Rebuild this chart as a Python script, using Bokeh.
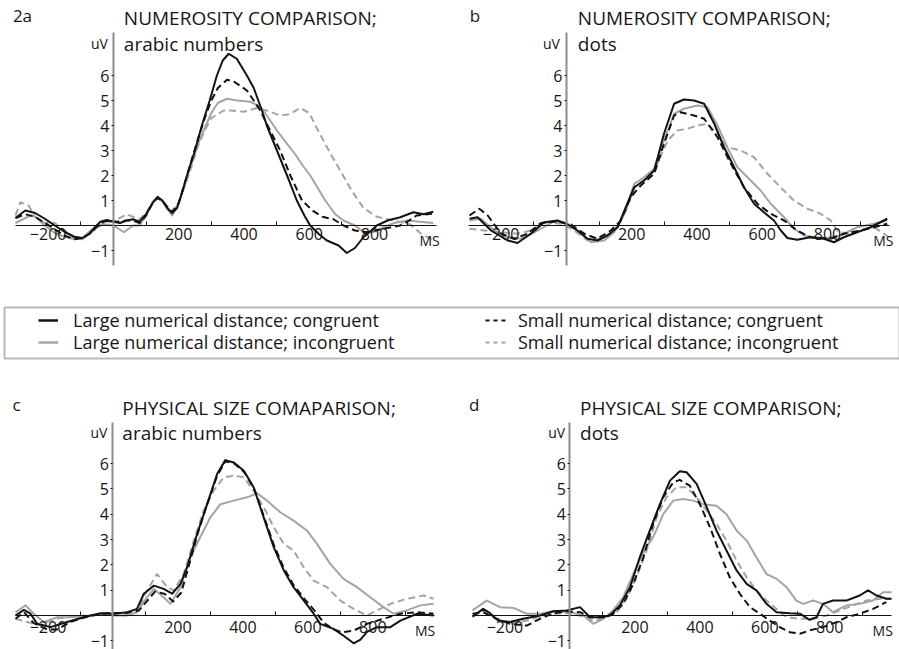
from bokeh.plotting import figure
from bokeh.models import Range1d, LinearAxis, FixedTicker, Label, Legend, LegendItem, BoxAnnotation
from bokeh.layouts import column, row
from bokeh.embed import file_html
from bokeh.resources import INLINE

# ---------------------------------------------------------------- data (ms, uV)
# Panel a: numerosity comparison, arabic numbers
A_LC_T = [-300,-270,-240,-210,-180,-150,-120,-95,-75,-55,-40,-20,0,20,40,60,80,100,120,135,150,165,180,195,210,230,250,271,295,317,335,353,378,409,430,455,470,501,532,562,585,603,630,654,690,715,740,766,790,807,840,879,919,950,980]
A_LC_V = [0.3,0.6,0.5,0.27,0.0,-0.25,-0.45,-0.5,-0.35,-0.05,0.15,0.22,0.15,0.1,0.2,0.25,0.15,0.45,0.9,1.15,1.0,0.7,0.5,0.7,1.3,2.2,3.0,4.0,5.0,6.0,6.6,6.87,6.67,6.0,5.5,4.6,4.0,3.0,2.0,1.0,0.4,0.0,-0.35,-0.6,-0.8,-1.1,-0.9,-0.47,-0.2,0.0,0.2,0.33,0.53,0.45,0.55]
A_LI_T = [-300,-254,-240,-210,-180,-150,-120,-95,-70,-50,-30,0,32,60,80,100,120,135,150,165,180,200,230,260,280,300,320,348,380,420,450,470,501,530,557,580,603,626,649,680,705,740,770,800,830,860,900,940,980]
A_LI_V = [0.1,0.4,0.35,0.0,-0.3,-0.45,-0.55,-0.5,-0.2,0.0,0.05,0.0,-0.27,0.0,0.0,0.4,0.9,1.1,0.95,0.65,0.4,0.9,2.1,3.3,3.9,4.5,4.9,5.07,5.0,4.95,4.75,4.4,3.8,3.3,2.85,2.4,2.0,1.5,1.0,0.45,0.2,0.0,-0.3,-0.25,-0.05,0.1,0.2,0.15,0.1]
A_SC_T = [-300,-270,-240,-210,-180,-150,-120,-95,-70,-50,-30,-10,10,40,60,80,100,120,135,150,165,180,200,230,260,280,300,320,348,370,409,430,450,480,511,542,578,610,640,674,705,740,777,828,879,900,929,980]
A_SC_V = [0.3,0.45,0.35,0.1,-0.15,-0.4,-0.55,-0.5,-0.3,-0.05,0.15,0.2,0.15,0.2,0.2,0.1,0.4,0.9,1.1,1.0,0.75,0.55,0.9,2.2,3.5,4.3,5.0,5.5,5.83,5.75,5.4,5.0,4.6,3.8,3.0,2.0,1.0,0.6,0.35,0.25,0.0,-0.2,-0.27,-0.13,0.0,0.15,0.4,0.47]
A_SI_T = [-300,-285,-260,-240,-210,-180,-150,-120,-95,-70,-40,-20,0,20,40,60,80,100,120,135,150,165,180,200,230,260,280,300,338,360,400,440,470,511,540,572,600,623,664,695,730,766,807,858,909,940,980]
A_SI_V = [0.4,0.93,0.8,0.35,0.1,0.1,-0.2,-0.5,-0.55,-0.3,0.0,0.1,0.2,0.3,0.45,0.35,0.25,0.5,0.95,1.1,1.0,0.7,0.45,0.9,2.0,3.2,3.8,4.3,4.6,4.6,4.55,4.7,4.6,4.4,4.45,4.7,4.5,3.9,2.9,2.2,1.4,0.7,0.35,0.2,0.05,-0.3,-0.6]

# Panel b: numerosity comparison, dots
B_LC_T = [-297,-272,-231,-180,-150,-109,-68,-27,4,34,65,95,126,157,182,208,238,269,299,330,360,391,422,453,483,514,544,575,605,636,657,677,707,748,789,820,850,891,932,983]
B_LC_V = [0.27,0.33,-0.2,-0.6,-0.7,-0.33,0.13,0.2,0.04,-0.2,-0.53,-0.6,-0.4,-0.07,0.73,1.53,1.8,2.2,3.67,4.87,5.04,5.0,4.87,4.07,3.13,2.33,1.53,0.87,0.53,0.2,-0.2,-0.5,-0.57,-0.47,-0.53,-0.67,-0.47,-0.27,-0.07,0.27]
B_LI_T = [-297,-262,-221,-180,-139,-88,-37,4,44,75,116,146,177,208,238,269,299,330,360,401,432,463,493,524,555,595,626,667,697,728,758,799,840,891,942,983]
B_LI_V = [0.2,0.27,-0.2,-0.47,-0.53,-0.2,0.17,0.07,-0.33,-0.67,-0.6,-0.27,0.47,1.67,1.93,2.27,3.4,4.47,4.67,4.8,4.73,4.0,3.13,2.33,1.93,1.4,0.87,0.33,-0.13,-0.4,-0.47,-0.5,-0.4,-0.07,0.07,0.2]
B_SC_T = [-297,-267,-241,-200,-160,-119,-78,-27,14,55,95,136,167,197,228,269,299,330,350,391,422,463,504,544,585,626,667,707,748,809,850,901,942,983]
B_SC_V = [0.4,0.67,0.4,-0.33,-0.53,-0.33,0.1,0.17,0.04,-0.33,-0.53,-0.2,0.2,1.13,1.6,2.07,3.27,4.4,4.53,4.4,4.27,3.53,2.47,1.53,0.87,0.47,0.2,-0.2,-0.47,-0.53,-0.33,-0.2,-0.07,0.07]
B_SI_T = [-297,-252,-200,-150,-109,-58,-17,24,65,106,146,177,208,248,279,310,340,371,401,432,463,493,534,575,616,656,697,738,779,810,830,860,901,942,973,988]
B_SI_V = [-0.13,-0.2,-0.27,-0.33,-0.2,0.13,0.07,-0.2,-0.6,-0.53,-0.2,0.4,1.53,1.93,2.47,3.4,3.8,3.87,4.0,4.07,3.67,3.13,3.0,2.73,2.07,1.53,1.0,0.67,0.47,0.2,-0.2,-0.33,-0.2,-0.07,-0.33,-0.47]

# Panel c: physical size comparison, arabic numbers
C_LC_T = [-300,-274,-254,-233,-192,-141,-90,-38,3,44,74,95,126,156,182,208,228,259,290,321,346,372,403,433,464,495,526,556,587,618,638,679,710,741,762,782,813,854,885,936,987]
C_LC_V = [0.0,0.22,0.07,-0.33,-0.46,-0.26,-0.07,0.09,0.07,0.13,0.26,0.86,1.18,1.05,0.86,1.25,1.9,3.22,4.4,5.6,6.14,6.05,5.72,5.07,3.88,2.7,1.78,1.12,0.6,0.07,-0.33,-0.53,-0.8,-1.1,-0.95,-0.65,-0.46,-0.46,-0.2,0.07,0.0]
C_LI_T = [-300,-269,-244,-213,-172,-141,-90,-38,3,44,74,105,126,156,177,208,238,269,300,331,372,413,444,474,515,556,597,628,669,710,751,792,833,864,905,946,987]
C_LI_V = [0.13,0.4,0.07,-0.26,-0.07,-0.07,-0.04,0.07,0.0,0.0,0.13,0.72,1.05,0.72,0.46,1.12,2.3,3.1,3.88,4.4,4.54,4.67,4.83,4.54,4.08,3.75,3.36,2.83,2.04,1.45,1.12,0.72,0.33,0.07,0.2,0.4,0.46]
C_SC_T = [-300,-274,-244,-203,-172,-130,-80,-30,0,40,80,100,130,160,185,210,230,260,290,320,346,375,405,435,465,495,525,556,590,620,650,680,705,741,782,833,885,936,987]
C_SC_V = [-0.13,0.13,-0.3,-0.55,-0.55,-0.25,-0.05,0.08,0.1,0.1,0.2,0.5,0.95,0.85,0.55,0.9,1.8,3.2,4.4,5.5,6.1,6.0,5.65,5.0,3.9,2.8,1.9,1.2,0.65,0.2,-0.3,-0.55,-0.66,-0.6,-0.33,-0.13,0.07,0.13,0.07]
C_SI_T = [-300,-264,-223,-182,-141,-80,-18,33,74,105,136,167,187,218,249,279,310,341,372,403,433,464,495,526,556,587,618,659,700,741,782,813,854,905,956,987]
C_SI_V = [-0.13,-0.26,-0.4,-0.13,-0.07,0.0,0.07,0.0,0.13,0.99,1.64,1.12,0.99,1.64,2.96,4.14,4.93,5.46,5.53,5.46,4.93,4.28,3.49,2.83,2.57,1.91,1.38,1.12,0.59,0.26,0.0,0.2,0.46,0.66,0.79,0.66]

# Panel d: physical size comparison, dots
D_LC_T = [-300,-267,-246,-221,-185,-144,-92,-51,-10,31,62,92,123,154,185,215,246,277,308,338,359,390,421,451,482,513,544,574,605,636,677,708,738,759,779,810,851,892,918,944,974,990]
D_LC_V = [-0.04,0.26,0.09,-0.2,-0.26,-0.13,0.0,0.17,0.2,0.33,-0.07,-0.07,0.0,0.4,1.12,2.3,3.36,4.4,5.33,5.7,5.66,5.2,4.28,3.36,2.57,1.78,1.25,0.99,0.46,0.13,0.09,0.07,-0.17,-0.07,0.46,0.59,0.59,0.79,0.99,0.79,0.66,0.66]
D_LI_T = [-300,-256,-215,-174,-133,-92,-51,0,41,72,103,133,164,195,226,256,287,318,349,379,410,451,482,513,544,574,605,636,667,697,718,749,779,810,851,892,933,964,990]
D_LI_V = [0.2,0.59,0.33,0.3,0.07,0.07,0.17,0.13,0.0,-0.33,-0.13,0.2,0.72,1.64,2.5,3.09,4.0,4.54,4.6,4.54,4.4,4.34,4.0,3.36,2.96,2.3,1.64,1.45,1.12,0.59,0.46,0.59,0.46,0.13,0.4,0.46,0.59,0.92,0.92]
D_SC_T = [-300,-267,-226,-185,-133,-92,-51,-10,31,62,103,133,164,195,226,256,287,318,338,369,400,431,462,492,523,554,585,615,646,677,708,738,779,821,851,892,933,974]
D_SC_V = [0.07,0.13,-0.13,-0.33,-0.4,-0.13,0.09,0.17,0.13,-0.07,-0.07,0.07,0.46,1.25,2.3,3.62,4.67,5.26,5.36,5.13,4.4,3.49,2.43,1.51,0.86,0.33,0.07,-0.2,-0.46,-0.66,-0.72,-0.59,-0.46,-0.26,-0.07,0.07,0.26,0.53]
D_SI_T = [-300,-267,-226,-185,-133,-92,-51,0,41,72,113,144,174,205,236,267,297,328,359,390,421,451,482,513,544,574,605,636,667,708,749,790,831,872,913,954,990]
D_SI_V = [-0.07,0.2,-0.13,-0.33,-0.2,-0.04,0.07,0.09,-0.04,-0.22,-0.07,0.13,0.66,1.51,2.57,3.88,4.67,5.07,5.07,4.67,4.14,3.62,2.96,2.17,1.51,0.99,0.59,0.26,-0.07,-0.13,-0.13,0.0,0.2,0.4,0.59,0.66,0.66]

X_TICKS = [-200, 200, 400, 600, 800]
X_MINOR = [-100, 100, 300, 500, 700, 900]
Y_TICKS = [-1, 1, 2, 3, 4, 5, 6]

LEGEND_LABELS = ["Large numerical distance; congruent",
                 "Large numerical distance; incongruent",
                 "Small numerical distance; congruent",
                 "Small numerical distance; incongruent"]

# ---------------------------------------------------------------- style
FONT = "Open Sans"
INK = "#161616"
BLACK = "#121212"
GRAY = "#a4a4a4"
DASH = "7 4"
T_SPAN = (-300, 990)   # extent of the time (zero) line


def note(p, x, y, s, size, align="left"):
    p.add_layout(Label(x=x, y=y, text=s, text_font=FONT, text_font_size=size,
                       text_align=align, text_baseline="middle", text_color=INK))


def panel(width, height, x_range, y_range, y_bounds, curves, tag, title, sub,
          lab_x, tag_y, title_y, sub_y, ms_x, ms_y, standoff):
    p = figure(width=width, height=height, output_backend="svg",
               toolbar_location=None, x_axis_type=None, y_axis_type=None,
               x_range=Range1d(*x_range), y_range=Range1d(*y_range),
               min_border=0)
    p.outline_line_color = None

    (lc_t, lc_v), (li_t, li_v), (sc_t, sc_v), (si_t, si_v) = curves
    p.line(si_t, si_v, line_color=GRAY, line_width=2, line_dash=DASH, line_join="round")
    p.line(li_t, li_v, line_color=GRAY, line_width=2, line_join="round")
    p.line(sc_t, sc_v, line_color=BLACK, line_width=2, line_dash=DASH, line_join="round")
    p.line(lc_t, lc_v, line_color=BLACK, line_width=2, line_join="round")

    xax = LinearAxis(fixed_location=0, bounds=T_SPAN,
                     ticker=FixedTicker(ticks=X_TICKS, minor_ticks=X_MINOR),
                     axis_line_color=BLACK, axis_line_width=1,
                     major_tick_in=0, major_tick_out=0,
                     minor_tick_in=4, minor_tick_out=0,
                     minor_tick_line_color=BLACK, minor_tick_line_width=1,
                     major_label_standoff=standoff,
                     major_label_text_font=FONT, major_label_text_font_size="16px",
                     major_label_text_color=INK)
    p.add_layout(xax, "below")

    yax = LinearAxis(fixed_location=0, bounds=y_bounds, ticker=FixedTicker(ticks=Y_TICKS),
                     axis_line_color="#8c8c8c", axis_line_width=2,
                     major_tick_in=0, major_tick_out=2,
                     major_tick_line_color=BLACK, major_tick_line_width=1,
                     minor_tick_in=0, minor_tick_out=0,
                     major_label_standoff=2,
                     major_label_text_font=FONT, major_label_text_font_size="16px",
                     major_label_text_color=INK)
    p.add_layout(yax, "left")

    tag_x, title_x, uv_x = lab_x
    note(p, tag_x, tag_y, tag, "17px")
    note(p, title_x, title_y, title, "19px")
    note(p, title_x, sub_y, sub, "19px")
    note(p, uv_x, sub_y, "uV", "14px", align="right")
    note(p, ms_x, ms_y, "MS", "14px", align="right")
    return p


pa = panel(440, 290, (-346.0, 1002.2), (-2.6, 9.0), (-1.6, 7.72),
           [(A_LC_T, A_LC_V), (A_LI_T, A_LI_V), (A_SC_T, A_SC_V), (A_SI_T, A_SI_V)],
           "2a", "NUMEROSITY COMPARISON;", "arabic numbers", (-308, 32, -17),
           8.4, 8.32, 7.28, 1000, -0.6, 2)
pb = panel(459, 290, (-385.8, 1020.6), (-2.6, 9.0), (-1.6, 7.72),
           [(B_LC_T, B_LC_V), (B_LI_T, B_LI_V), (B_SC_T, B_SC_V), (B_SI_T, B_SI_V)],
           "b", "NUMEROSITY COMPARISON;", "dots", (-296, 35, -20),
           8.4, 8.32, 7.28, 1002, -0.6, 2)
pc = panel(440, 284, (-346.2, 1008.4), (-1.344, 9.88), (-1.344, 7.63),
           [(C_LC_T, C_LC_V), (C_LI_T, C_LI_V), (C_SC_T, C_SC_V), (C_SI_T, C_SI_V)],
           "c", "PHYSICAL SIZE COMAPARISON;", "arabic numbers", (-309, 29, -17),
           8.34, 8.22, 7.23, 992, -0.59, 6)
pd_ = panel(459, 284, (-398.5, 1014.6), (-1.344, 9.88), (-1.344, 7.63),
            [(D_LC_T, D_LC_V), (D_LI_T, D_LI_V), (D_SC_T, D_SC_V), (D_SI_T, D_SI_V)],
            "d", "PHYSICAL SIZE COMPARISON;", "dots", (-311, 31, -15),
            8.34, 8.22, 7.23, 994, -0.59, 6)

# ---------------------------------------------------------------- shared legend strip
# the strip uses pixel-sized ranges so the frame box and entries sit on whole pixels
leg = figure(width=899, height=75, output_backend="svg", toolbar_location=None,
             x_axis_type=None, y_axis_type=None,
             x_range=Range1d(0, 899), y_range=Range1d(0, 75), min_border=0)
leg.outline_line_color = None
leg.add_layout(BoxAnnotation(left=4, bottom=7, top=58, fill_alpha=0,
                             line_color="#1a1a1a", line_width=2))

off_x, off_y = [-50, -40], [-50, -50]   # placeholders outside the visible range
r_lc = leg.line(off_x, off_y, line_color=BLACK, line_width=2.5)
r_li = leg.line(off_x, off_y, line_color=GRAY, line_width=2.5)
r_sc = leg.line(off_x, off_y, line_color=BLACK, line_width=2, line_dash="4 4")
r_si = leg.line(off_x, off_y, line_color=GRAY, line_width=2, line_dash="4 4")

common = dict(orientation="vertical", padding=0, margin=0, spacing=0,
              glyph_height=20, label_height=20,
              label_text_font=FONT, label_text_font_size="18px", label_text_color=INK,
              border_line_alpha=0, background_fill_alpha=0)
for lab, rend, loc, gw, so in ((LEGEND_LABELS[0], r_lc, (38, 33), 20, 15),
                               (LEGEND_LABELS[1], r_li, (38, 11), 20, 15),
                               (LEGEND_LABELS[2], r_sc, (485, 33), 22, 11),
                               (LEGEND_LABELS[3], r_si, (485, 11), 22, 11)):
    leg.add_layout(Legend(items=[LegendItem(label=lab, renderers=[rend])],
                          location=loc, glyph_width=gw, label_standoff=so, **common))

layout = column(row(pa, pb), leg, row(pc, pd_))
open("out.html", "w").write(file_html(layout, INLINE))
